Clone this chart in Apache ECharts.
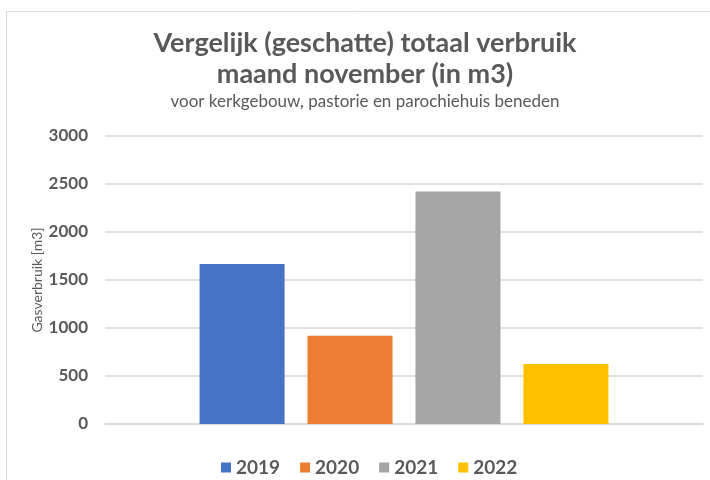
<!DOCTYPE html>
<html>
<head>
<meta charset="utf-8">
<script src="https://cdn.jsdelivr.net/npm/echarts@6/dist/echarts.min.js"></script>
<style>html,body{margin:0;padding:0;background:#fff;}#c{width:710px;height:480px;}</style>
</head>
<body>
<div id="c"></div>
<script>
const titleLines = ['Vergelijk (geschatte) totaal verbruik', 'maand november (in m3)'];
const subtitle = 'voor kerkgebouw, pastorie en parochiehuis beneden';
const yAxisName = 'Gasverbruik [m3]';
const categories = [''];
const seriesNames = ['2019', '2020', '2021', '2022'];
const values2019 = [1667];
const values2020 = [920];
const values2021 = [2423];
const values2022 = [625];
const seriesColors = ['#4472C4', '#ED7D31', '#A5A5A5', '#FFC000'];
const yMin = 0, yMax = 3000, yInterval = 500;

const allValues = [values2019, values2020, values2021, values2022];
const FONT = 'Lato, "Open Sans", sans-serif';
const chart = echarts.init(document.getElementById('c'), null, {renderer: 'canvas'});
chart.setOption({
  animation: false,
  textStyle: {fontFamily: FONT},
  grid: {left: 105, right: 7, top: 136, bottom: 56},
  graphic: [
    {type: 'rect', shape: {x: 6.5, y: 11.5, width: 720, height: 480}, style: {fill: 'none', stroke: '#d9d9d9', lineWidth: 1}, silent: true},
    {type: 'text', x: 365, y: 43, style: {text: titleLines[0], textAlign: 'center', textVerticalAlign: 'middle', fill: '#595959', font: 'bold 27px ' + FONT}},
    {type: 'text', x: 365, y: 74, style: {text: titleLines[1], textAlign: 'center', textVerticalAlign: 'middle', fill: '#595959', font: 'bold 27px ' + FONT}},
    {type: 'text', x: 365, y: 102, style: {text: subtitle, textAlign: 'center', textVerticalAlign: 'middle', fill: '#595959', font: '17px ' + FONT}}
  ],
  legend: {
    left: 216, top: 453, itemWidth: 10, itemHeight: 10, itemGap: 20,
    icon: 'rect',
    data: seriesNames,
    textStyle: {color: '#595959', fontSize: 19, fontWeight: 'bold', fontFamily: FONT}
  },
  xAxis: {
    type: 'category', data: categories,
    axisLine: {show: true, lineStyle: {color: '#d9d9d9', width: 1.5}},
    axisTick: {show: false}, axisLabel: {show: false}
  },
  yAxis: {
    type: 'value', min: yMin, max: yMax, interval: yInterval,
    name: yAxisName, nameLocation: 'middle', nameGap: 61, nameRotate: 90,
    nameMoveOverlap: false,
    nameTextStyle: {color: '#595959', fontSize: 14, fontFamily: FONT},
    axisLine: {show: false}, axisTick: {show: false},
    axisLabel: {color: '#595959', fontSize: 17, fontWeight: 'bold', margin: 17, fontFamily: FONT, formatter: v => String(v)},
    splitLine: {lineStyle: {color: '#d9d9d9', width: 1.5}}
  },
  series: seriesNames.map((n, i) => ({
    name: n, type: 'bar', data: allValues[i], barWidth: 85, barGap: '27%',
    itemStyle: {color: seriesColors[i]}
  }))
});
</script>
</body>
</html>
